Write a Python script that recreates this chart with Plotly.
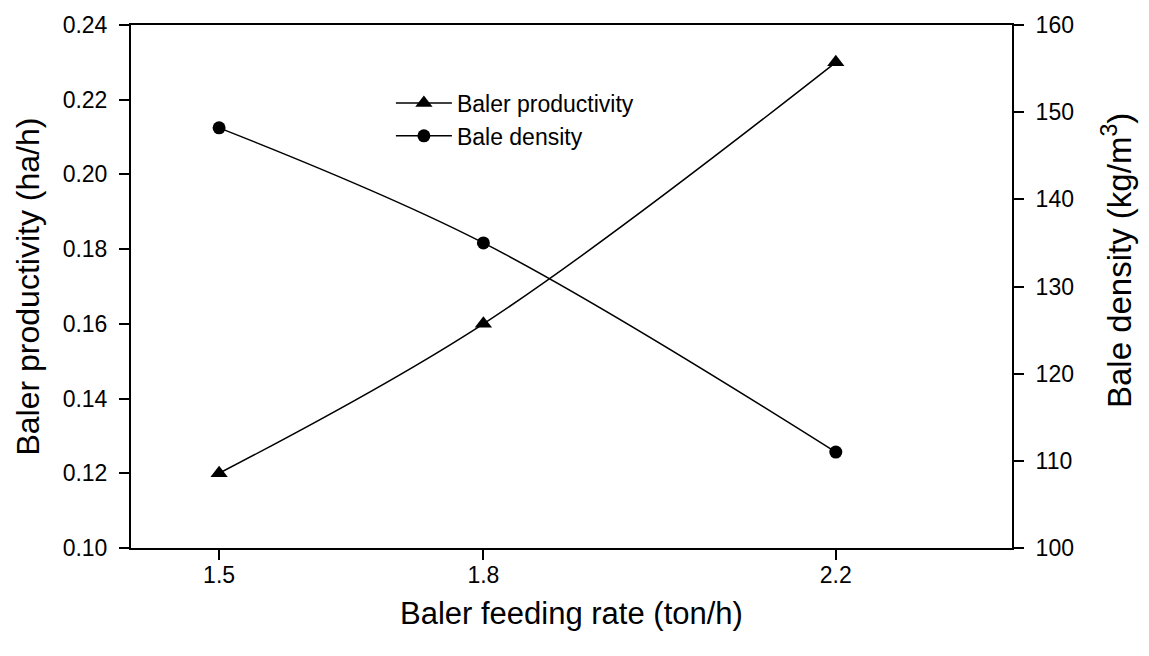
import plotly.graph_objects as go

feeding_rate = [1.5, 1.8, 2.2]
productivity = [0.12, 0.16, 0.23]
density = [148.2, 135.0, 111.0]
x_ticks = [1.5, 1.8, 2.2]
y1_ticks = [0.10, 0.12, 0.14, 0.16, 0.18, 0.20, 0.22, 0.24]
y2_ticks = [100, 110, 120, 130, 140, 150, 160]

FONT = "Liberation Sans, Arial, sans-serif"

fig = go.Figure()
fig.add_trace(go.Scatter(
    x=feeding_rate, y=productivity, name="Baler productivity",
    mode="lines+markers", line=dict(color="black", width=1.5, shape="spline", smoothing=1.0),
    marker=dict(symbol="triangle-up", size=15, color="black"), yaxis="y"))
fig.add_trace(go.Scatter(
    x=feeding_rate, y=density, name="Bale density",
    mode="lines+markers", line=dict(color="black", width=1.5, shape="spline", smoothing=1.0),
    marker=dict(symbol="circle", size=13, color="black"), yaxis="y2"))

axis_common = dict(showgrid=False, zeroline=False, showline=True, linecolor="black",
                   linewidth=2, ticks="outside", ticklen=10, tickwidth=2, tickcolor="black",
                   tickfont=dict(family=FONT, size=23, color="black"))

fig.update_layout(
    width=1149, height=656,
    margin=dict(l=131, r=137, t=20, b=108),
    paper_bgcolor="white", plot_bgcolor="white",
    font=dict(family=FONT, color="black"),
    xaxis=dict(range=[1.4, 2.4], tickvals=x_ticks, ticktext=["1.5", "1.8", "2.2"],
               mirror=True, ticklabelstandoff=-5, **axis_common),
    yaxis=dict(range=[0.10, 0.24], tickvals=y1_ticks, tickformat=".2f",
               ticklabelstandoff=7, **axis_common),
    yaxis2=dict(range=[100, 160], tickvals=y2_ticks, overlaying="y", side="right",
                ticklabelstandoff=7, **axis_common),
    legend=dict(x=0.295, y=0.892, xanchor="left", yanchor="top", bgcolor="rgba(0,0,0,0)",
                font=dict(family=FONT, size=23, color="black"), tracegroupgap=0, itemwidth=56),
    showlegend=True,
)

fig.add_annotation(text="Baler feeding rate (ton/h)", xref="paper", yref="paper",
                   x=0.5, y=-0.125, yanchor="middle", showarrow=False,
                   font=dict(family=FONT, size=31, color="black"))
fig.add_annotation(text="Baler productivity (ha/h)", xref="paper", yref="paper",
                   x=-0.118, y=0.5, textangle=-90, showarrow=False, xanchor="center",
                   yanchor="middle", font=dict(family=FONT, size=32, color="black"))
fig.add_annotation(text="Bale density (kg/m<sup>3</sup>)", xref="paper", yref="paper",
                   x=1.12, y=0.55, textangle=-90, showarrow=False, xanchor="center",
                   yanchor="middle", font=dict(family=FONT, size=33, color="black"))

fig.write_html("out.html")
